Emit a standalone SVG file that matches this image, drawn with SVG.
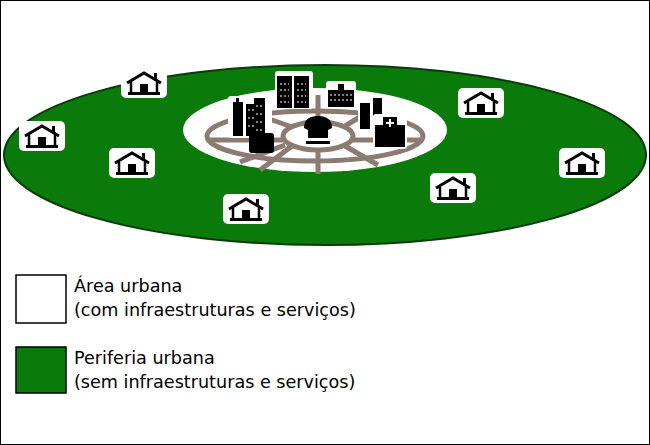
<svg xmlns="http://www.w3.org/2000/svg" width="650" height="445" viewBox="0 0 650 445">
<style>
.t{font-family:"DejaVu Sans",Verdana,sans-serif;font-size:17.6px;fill:#000}
.road{fill:none;stroke:#8c7b72;stroke-width:5}
.b{fill:#000}
.w{fill:#fff}
.win{fill:none;stroke:#fff;stroke-width:1;stroke-dasharray:2 2}
</style>
<defs>
<g id="house">
<rect x="-23" y="-15" width="46" height="30" rx="5" fill="#fff"/>
<path d="M-17,0 L0,-10 L17,0" fill="none" stroke="#000" stroke-width="3"/>
<rect x="10" y="-10" width="3" height="6" fill="#000"/>
<path d="M-13,-1 V10 M13,-1 V10" stroke="#000" stroke-width="2.5"/>
<rect x="-16" y="9" width="32" height="3" fill="#000"/>
<rect x="-4" y="1" width="8" height="9" fill="#000"/>
</g>
</defs>
<rect x="0.5" y="0.5" width="649" height="444" fill="#fff" stroke="#000"/>
<g id="periphery">
<ellipse cx="325" cy="155" rx="321" ry="90" fill="#0a7a0a" stroke="#0b3a0b" stroke-width="2"/>
</g>
<g id="urban">
<ellipse cx="315" cy="130" rx="132" ry="42" fill="#fff"/>
<g id="roads">
<ellipse cx="315" cy="136" rx="108" ry="25" class="road"/>
<ellipse cx="318" cy="136" rx="35" ry="14" class="road"/>
<path class="road" d="M210,140 H283 M353,140 H420 M318,95 V122 M318,150 V174 M258,115 L292,127 M345,126 L368,112 M260,170 L292,146 M345,146 L378,165 M240,162 L285,145"/>
</g>
<g id="buildings">
<rect x="228" y="96" width="44" height="42" rx="3" class="w"/>
<rect x="233" y="102" width="10" height="34" class="b"/><rect x="236" y="98" width="3" height="5" class="b"/>
<rect x="246" y="104" width="10" height="32" class="b"/><rect x="254" y="98" width="11" height="38" class="b"/>
<rect x="275" y="71" width="38" height="38" rx="3" class="w"/>
<rect x="277" y="76" width="15" height="32" class="b"/><rect x="294" y="76" width="15" height="32" class="b"/>
<path class="win" d="M280,84 H289 M280,90 H289 M280,96 H289 M280,102 H289 M297,84 H306 M297,90 H306 M297,96 H306 M297,102 H306 M248,110 H254 M248,118 H254 M248,126 H254 M256,106 H263 M256,114 H263 M256,122 H263 M256,130 H263"/>
<rect x="326" y="81" width="30" height="27" rx="3" class="w"/>
<rect x="328" y="90" width="26" height="17" class="b"/><rect x="338" y="84" width="6" height="7" class="b"/>
<path class="win" d="M330,95 H352 M330,100 H352"/>
<rect x="358" y="95" width="26" height="36" rx="3" class="w"/>
<rect x="360" y="103" width="10" height="26" class="b"/><rect x="373" y="98" width="9" height="20" class="b"/>
<rect x="373" y="114" width="34" height="35" rx="3" class="w"/>
<rect x="375" y="125" width="30" height="22" class="b"/><rect x="383" y="117" width="14" height="12" class="b"/>
<path d="M390,119 v8 M386,123 h8" stroke="#fff" stroke-width="2"/>
<rect x="249" y="133" width="25" height="20" rx="3" class="b"/>
<path d="M304,128 q0,-12 14,-12 q14,0 14,12 l-4,2 v8 h-20 v-8 z M306,141 h24 v3 h-24z" class="b"/>
</g>
</g>
<g id="houses">
<use href="#house" x="144" y="83"/>
<use href="#house" x="42" y="136"/>
<use href="#house" x="132" y="163"/>
<use href="#house" x="481" y="103"/>
<use href="#house" x="582" y="163"/>
<use href="#house" x="453" y="188"/>
<use href="#house" x="246" y="209"/>
</g>
<g id="legend">
<rect x="16" y="275" width="50" height="48" fill="#fff" stroke="#000" stroke-width="1.5"/>
<text class="t" x="74" y="292">Área urbana</text>
<text class="t" x="74" y="316">(com infraestruturas e serviços)</text>
<rect x="16" y="347" width="50" height="46" fill="#0a7a0a" stroke="#000" stroke-width="1.5"/>
<text class="t" x="74" y="364">Periferia urbana</text>
<text class="t" x="74" y="388">(sem infraestruturas e serviços)</text>
</g>
</svg>
